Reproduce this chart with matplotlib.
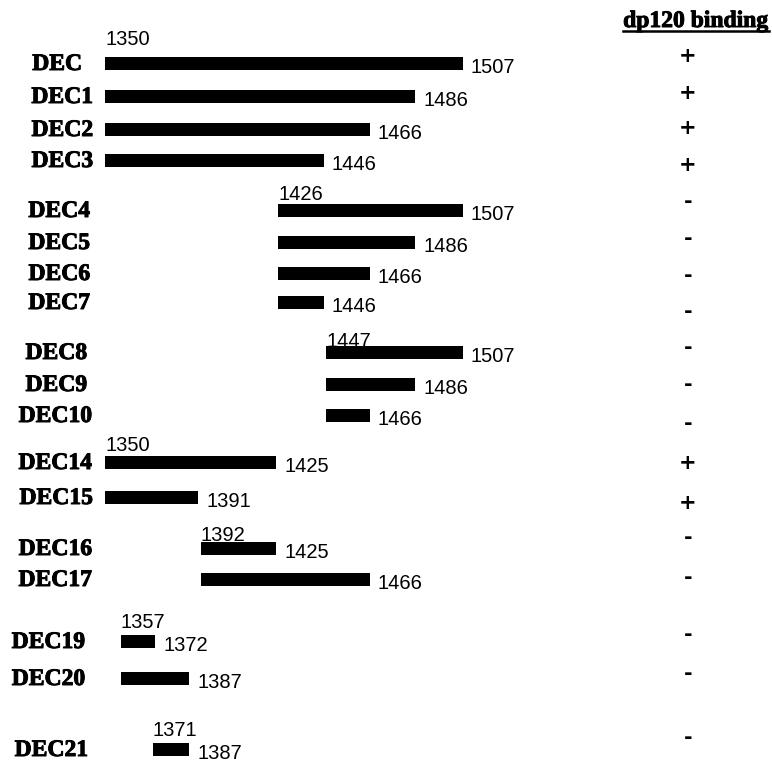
import matplotlib.pyplot as plt
import matplotlib.patheffects as pe

# Deletion constructs: name, first residue, last residue, dp120 binding
names = ['DEC', 'DEC1', 'DEC2', 'DEC3', 'DEC4', 'DEC5', 'DEC6', 'DEC7',
         'DEC8', 'DEC9', 'DEC10', 'DEC14', 'DEC15', 'DEC16', 'DEC17',
         'DEC19', 'DEC20', 'DEC21']
starts = [1350, 1350, 1350, 1350, 1426, 1426, 1426, 1426,
          1447, 1447, 1447, 1350, 1350, 1392, 1392,
          1357, 1357, 1371]
ends = [1507, 1486, 1466, 1446, 1507, 1486, 1466, 1446,
        1507, 1486, 1466, 1425, 1391, 1425, 1466,
        1372, 1387, 1387]
binding = ['+', '+', '+', '+', '-', '-', '-', '-',
           '-', '-', '-', '+', '+', '-', '-',
           '-', '-', '-']

# Layout (pixels from the top of the figure)
row_y = [63, 96, 129, 160, 210, 242, 273, 302, 352, 384, 415,
         462, 497, 548, 579, 641, 678, 749]
label_right = [82, 93, 93, 93, 90, 90, 90, 90, 87, 87, 92,
               92, 93, 92, 92, 85, 85, 88]
sign_y = [56, 93, 128, 165, 202, 239, 276, 312, 348, 385, 424,
          463, 503, 538, 578, 635, 674, 738]
# baseline of the start number written above the first bar of a group
start_label_y = [45, None, None, None, 200, None, None, None,
                 347, None, None, 451, None, 541, None,
                 628, None, 736]

W, H = 772, 763
PX_PER_RES = (463 - 105) / (1507 - 1350)
x_min = 1350 - 105 / PX_PER_RES
x_max = x_min + W / PX_PER_RES


def px_to_res(px):
    return x_min + px / PX_PER_RES


fig = plt.figure(figsize=(W / 100, H / 100), dpi=100)
ax = fig.add_axes([0, 0, 1, 1])
ax.set_xlim(x_min, x_max)
ax.set_ylim(H, 0)
ax.axis('off')

heavy = [pe.withStroke(linewidth=0.7, foreground='black')]
label_font = dict(family='Liberation Serif', weight='bold', size=17,
                  path_effects=heavy)
num_font = dict(family='Liberation Sans', size=14.5)

# Bars
widths = [e - s for s, e in zip(starts, ends)]
ax.barh(row_y, widths, left=starts, height=13, color='black')

for i, name in enumerate(names):
    y = row_y[i]
    # construct name
    ax.text(px_to_res(label_right[i]), y + 7, name, ha='right', va='baseline',
            **label_font)
    # end residue
    ax.annotate(str(ends[i]), xy=(ends[i], y), xytext=(8, -10),
                textcoords='offset pixels', ha='left', va='baseline', **num_font)
    # start residue
    if start_label_y[i] is not None:
        ax.text(starts[i], start_label_y[i], str(starts[i]), ha='left',
                va='baseline', **num_font)
    # binding result
    ax.text(px_to_res(688), sign_y[i], binding[i], ha='center', va='center',
            family='DejaVu Sans', weight='bold', size=15)

# Column header with underline
header = ax.text(px_to_res(696), 27, 'dp120 binding', ha='center',
                 va='baseline', **label_font)
fig.canvas.draw()
bb = header.get_window_extent()
ax.plot([px_to_res(bb.x0), px_to_res(bb.x1)], [30.5, 30.5], color='black', lw=1.8)

fig.savefig('out.png', dpi=100)
